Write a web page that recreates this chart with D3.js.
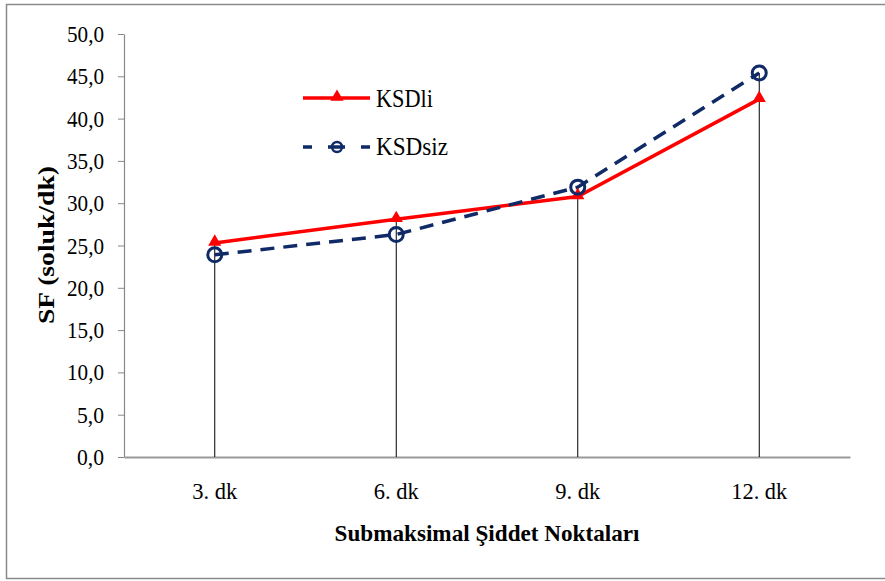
<!DOCTYPE html>
<html>
<head>
<meta charset="utf-8">
<script src="https://cdn.jsdelivr.net/npm/d3@7"></script>
<style>
  html, body { margin: 0; padding: 0; background: #fff; }
  svg { display: block; }
  svg text { font-family: "Liberation Serif", "Times New Roman", Times, serif !important; }
</style>
</head>
<body>
<svg id="chart" width="885" height="581"></svg>
<script>
const categories = ["3. dk", "6. dk", "9. dk", "12. dk"];
const seriesNames = ["KSDli", "KSDsiz"];
const ksdli = [25.3, 28.1, 30.8, 42.3];
const ksdsiz = [23.9, 26.3, 31.9, 45.4];
const yTicks = [0, 5, 10, 15, 20, 25, 30, 35, 40, 45, 50];
const yTitle = "SF (soluk/dk)";
const xTitle = "Submaksimal Şiddet Noktaları";

const svg = d3.select("#chart");
const W = 885, H = 581;
const m = { left: 124, right: 35, top: 34, bottom: 124 };

// outer border
svg.append("rect").attr("x", 6.5).attr("y", 4.5).attr("width", 900).attr("height", 574)
  .attr("fill", "none").attr("stroke", "#8a8a8a").attr("stroke-width", 1.5);

const x = d3.scaleBand().domain(categories).range([m.left, W - m.right]);
const y = d3.scaleLinear().domain([0, 50]).range([H - m.bottom, m.top]);

const fmt = d => d.toFixed(1).replace(".", ",");

// y axis
const ya = svg.append("g").attr("transform", `translate(${m.left},0)`)
  .call(d3.axisLeft(y).tickValues(yTicks).tickFormat(fmt).tickSize(6).tickSizeOuter(0));
ya.attr("font-family", null);
ya.select(".domain").attr("stroke", "#888").attr("stroke-width", 1.2);
ya.selectAll(".tick line").attr("stroke", "#888");
ya.selectAll(".tick text").attr("font-size", 23).attr("fill", "#000").attr("x", -20)
  .attr("textLength", function() { return this.textContent.length === 3 ? 27 : 37; })
  .attr("lengthAdjust", "spacingAndGlyphs").attr("dy", "0.33em");

// x axis
const xa = svg.append("g").attr("transform", `translate(0,${y(0)})`)
  .call(d3.axisBottom(x).tickSize(0).tickSizeOuter(0));
xa.attr("font-family", null);
xa.select(".domain").attr("stroke", "#999").attr("stroke-width", 2);
xa.selectAll(".tick text").attr("font-size", 23).attr("fill", "#000").attr("dy", 0).attr("y", 42)
  .attr("textLength", function() { return this.textContent.length === 5 ? 45 : 56; })
  .attr("lengthAdjust", "spacingAndGlyphs");

// drop lines
const cx = d => x(d) + x.bandwidth() / 2;
svg.append("g").selectAll("line").data(categories).join("line")
  .attr("x1", d => cx(d)).attr("x2", d => cx(d))
  .attr("y1", (d, i) => y(Math.max(ksdli[i], ksdsiz[i])))
  .attr("y2", y(0))
  .attr("stroke", "#000").attr("stroke-width", 1);

const red = "#ff0000", navy = "#0f2a66";
const line = d3.line().x((d, i) => cx(categories[i])).y(d => y(d));

svg.append("path").datum(ksdli).attr("d", line).attr("fill", "none")
  .attr("stroke", red).attr("stroke-width", 3.5);
svg.append("path").datum(ksdsiz).attr("d", line).attr("fill", "none")
  .attr("stroke", navy).attr("stroke-width", 3.5).attr("stroke-dasharray", "14,9");

const tri = d3.symbol().type(d3.symbolTriangle).size(75);
svg.append("g").selectAll("path").data(ksdli).join("path")
  .attr("d", tri).attr("transform", (d, i) => `translate(${cx(categories[i])},${y(d) - 1})`)
  .attr("fill", red);
svg.append("g").selectAll("circle").data(ksdsiz).join("circle")
  .attr("cx", (d, i) => cx(categories[i])).attr("cy", d => y(d)).attr("r", 7)
  .attr("fill", "none").attr("stroke", navy).attr("stroke-width", 3);

// legend
const lg = svg.append("g");
lg.append("line").attr("x1", 303).attr("x2", 370).attr("y1", 98).attr("y2", 98)
  .attr("stroke", red).attr("stroke-width", 3.5);
lg.append("path").attr("d", tri).attr("transform", "translate(337,97)").attr("fill", red);
lg.append("text").attr("x", 376).attr("y", 107).text(seriesNames[0])
  .attr("font-size", 25).attr("textLength", 57).attr("lengthAdjust", "spacingAndGlyphs");
lg.append("line").attr("x1", 303).attr("x2", 370).attr("y1", 147).attr("y2", 147)
  .attr("stroke", navy).attr("stroke-width", 3.5).attr("stroke-dasharray", "9,16,17,16,9");
lg.append("circle").attr("cx", 337).attr("cy", 147).attr("r", 5)
  .attr("fill", "none").attr("stroke", navy).attr("stroke-width", 2.5);
lg.append("text").attr("x", 376).attr("y", 155).text(seriesNames[1])
  .attr("font-size", 25).attr("textLength", 72).attr("lengthAdjust", "spacingAndGlyphs");

// axis titles
svg.append("text").attr("transform", "translate(54,245) rotate(-90)")
  .attr("text-anchor", "middle").attr("font-weight", "bold")
  .attr("font-size", 23).attr("textLength", 158).attr("lengthAdjust", "spacingAndGlyphs").text(yTitle);
svg.append("text").attr("x", 487).attr("y", 541)
  .attr("text-anchor", "middle").attr("font-weight", "bold")
  .attr("font-size", 23).attr("textLength", 305).attr("lengthAdjust", "spacingAndGlyphs").text(xTitle);
</script>
</body>
</html>
